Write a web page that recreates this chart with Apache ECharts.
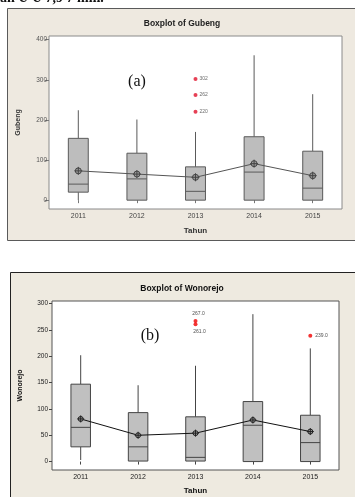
<!DOCTYPE html>
<html><head><meta charset="utf-8">
<script src="https://cdn.jsdelivr.net/npm/echarts@6/dist/echarts.min.js"></script>
<style>html,body{margin:0;padding:0;background:#fff}#c{width:355px;height:497px}</style>
</head><body><div id="c"></div>
<script>
// ---- data ----
const years = ['2011','2012','2013','2014','2015'];
// Gubeng: [lowWhisker, Q1, median, Q3, highWhisker]
const gubengBox = [
  [0, 20, 40, 154, 224],
  [0, 0, 53, 117, 201],
  [0, 0, 22, 83, 170],
  [0, 0, 70, 158, 361],
  [0, 0, 30, 122, 264]
];
const gubengMean = [73, 65, 57, 91, 61];
const gubengOutliers = [[2, 302], [2, 262], [2, 220]];
const gubengTicks = [0, 100, 200, 300, 400];
// Wonorejo
const wonorejoBox = [
  [3, 28, 65, 147, 202],
  [1, 1, 28, 93, 145],
  [0, 1, 8, 85, 182],
  [0, 0, 69, 114, 280],
  [0, 0, 36, 88, 215]
];
const wonorejoMean = [81, 50, 54, 79, 57];
const wonorejoOutliers = [[2, 267], [2, 261], [4, 239]];
const wonorejoTicks = [0, 50, 100, 150, 200, 250, 300];

const FONT = 'Liberation Sans';

function boxRenderer(stroke, fill, frac) {
  return function (params, api) {
    const x = api.value(0);
    const v = [1,2,3,4,5].map(i => api.coord([x, api.value(i)]));
    const cx = v[0][0];
    const bw = api.size([1, 0])[0] * frac;
    const st = {stroke: stroke, lineWidth: 1, fill: null};
    const ch = [];
    if (v[4][1] < v[3][1]) ch.push({type:'line', shape:{x1:cx,y1:v[4][1],x2:cx,y2:v[3][1]}, style:st});
    if (v[0][1] > v[1][1]) ch.push({type:'line', shape:{x1:cx,y1:v[1][1],x2:cx,y2:v[0][1]}, style:st});
    ch.push({type:'rect', shape:{x:cx-bw/2, y:v[3][1], width:bw, height:v[1][1]-v[3][1]}, style:{fill:fill, stroke:stroke, lineWidth:1}});
    ch.push({type:'line', shape:{x1:cx-bw/2,y1:v[2][1],x2:cx+bw/2,y2:v[2][1]}, style:st});
    return {type:'group', children:ch};
  };
}
function meanRenderer(stroke, r) {
  return function (params, api) {
    const p = api.coord([api.value(0), api.value(1)]);
    const st = {stroke: stroke, lineWidth: 1};
    return {type:'group', children:[
      {type:'circle', shape:{cx:p[0], cy:p[1], r:r}, style:{fill:'#9a9a9a', stroke:stroke, lineWidth:1}},
      {type:'line', shape:{x1:p[0]-r-1,y1:p[1],x2:p[0]+r+1,y2:p[1]}, style:st},
      {type:'line', shape:{x1:p[0],y1:p[1]-r-1,x2:p[0],y2:p[1]+r+1}, style:st}
    ]};
  };
}

const boxData = arr => arr.map((d, i) => [i].concat(d));
const meanData = arr => arr.map((d, i) => [i, d]);

const chart = echarts.init(document.getElementById('c'), null, {renderer:'canvas'});
chart.setOption({
  animation: false,
  backgroundColor: '#fff',
  graphic: [
    {type:'rect', z:-10, shape:{x:7.5, y:8.5, width:360, height:232}, style:{fill:'#EEE9E0', stroke:'#5a5a5a', lineWidth:1}},
    {type:'rect', z:-10, shape:{x:10.5, y:272.5, width:360, height:240}, style:{fill:'#EEEAE0', stroke:'#222', lineWidth:1}},
    {type:'text', left:0, top:-9, style:{text:'an U U 7,9 7 mm.', font:'bold 14px "Liberation Serif"', fill:'#111'}},
    {type:'text', x:182, y:24, style:{text:'Boxplot of Gubeng', font:'bold 8.5px "'+FONT+'"', fill:'#222', align:'center', verticalAlign:'middle'}},
    {type:'text', x:182, y:289, style:{text:'Boxplot of Wonorejo', font:'bold 8.5px "'+FONT+'"', fill:'#111', align:'center', verticalAlign:'middle'}},
    {type:'text', x:137, y:82, z:10, style:{text:'(a)', font:'16px "Liberation Serif"', fill:'#111', align:'center', verticalAlign:'middle'}},
    {type:'text', x:150, y:336, z:10, style:{text:'(b)', font:'16px "Liberation Serif"', fill:'#111', align:'center', verticalAlign:'middle'}}
  ],
  grid: [
    {left:49, top:36, right:13, bottom:288, show:true, backgroundColor:'#fff', borderColor:'#8a8a8a', borderWidth:1},
    {left:52, top:301, right:16, bottom:27, show:true, backgroundColor:'#fff', borderColor:'#555', borderWidth:1}
  ],
  xAxis: [
    {gridIndex:0, type:'category', data:years, boundaryGap:true,
     axisLine:{show:false}, axisTick:{show:true, alignWithLabel:true, length:3, lineStyle:{color:'#777'}},
     axisLabel:{fontFamily:FONT, fontSize:7, color:'#444', margin:4},
     name:'Tahun', nameLocation:'middle', nameGap:18,
     nameTextStyle:{fontFamily:FONT, fontSize:8, fontWeight:'bold', color:'#333'}},
    {gridIndex:1, type:'category', data:years, boundaryGap:true,
     axisLine:{show:false}, axisTick:{show:true, alignWithLabel:true, length:3, lineStyle:{color:'#444'}},
     axisLabel:{fontFamily:FONT, fontSize:7, color:'#222', margin:4},
     name:'Tahun', nameLocation:'middle', nameGap:17,
     nameTextStyle:{fontFamily:FONT, fontSize:8, fontWeight:'bold', color:'#111'}}
  ],
  yAxis: [
    {gridIndex:0, type:'value', min:-22, max:409, splitLine:{show:false},
     axisLine:{show:false}, axisTick:{show:true, length:4, customValues:gubengTicks, lineStyle:{color:'#777'}},
     axisLabel:{customValues:gubengTicks, fontFamily:FONT, fontSize:6.5, color:'#555', margin:2},
     name:'Gubeng', nameLocation:'middle', nameGap:27, nameRotate:90,
     nameTextStyle:{fontFamily:FONT, fontSize:7, fontWeight:'bold', color:'#333'}},
    {gridIndex:1, type:'value', min:-16, max:305, splitLine:{show:false},
     axisLine:{show:false}, axisTick:{show:true, length:3, customValues:wonorejoTicks, lineStyle:{color:'#444'}},
     axisLabel:{customValues:wonorejoTicks, fontFamily:FONT, fontSize:6.5, color:'#222', margin:4},
     name:'Wonorejo', nameLocation:'middle', nameGap:28, nameRotate:90,
     nameTextStyle:{fontFamily:FONT, fontSize:7, fontWeight:'bold', color:'#111'}}
  ],
  series: [
    {type:'custom', xAxisIndex:0, yAxisIndex:0, data:boxData(gubengBox), renderItem:boxRenderer('#5a5a5a', '#BDBDBD', 0.34), z:2},
    {type:'line', xAxisIndex:0, yAxisIndex:0, data:meanData(gubengMean), symbol:'none', lineStyle:{color:'#555', width:1}, z:3},
    {type:'custom', xAxisIndex:0, yAxisIndex:0, data:meanData(gubengMean), renderItem:meanRenderer('#444', 3), z:4},
    {type:'scatter', xAxisIndex:0, yAxisIndex:0, data:gubengOutliers, symbol:'circle', symbolSize:4,
     itemStyle:{color:'#E0102A'}, z:5,
     label:{show:true, position:'right', distance:2, formatter:p => String(p.value[1]), fontFamily:FONT, fontSize:5, color:'#444'}},
    {type:'custom', xAxisIndex:1, yAxisIndex:1, data:boxData(wonorejoBox), renderItem:boxRenderer('#444', '#C0C0C0', 0.34), z:2},
    {type:'line', xAxisIndex:1, yAxisIndex:1, data:meanData(wonorejoMean), symbol:'none', lineStyle:{color:'#111', width:1}, z:3},
    {type:'custom', xAxisIndex:1, yAxisIndex:1, data:meanData(wonorejoMean), renderItem:meanRenderer('#222', 2.5), z:4},
    {type:'scatter', xAxisIndex:1, yAxisIndex:1, symbol:'circle', symbolSize:4, itemStyle:{color:'#F00000'}, z:5,
     data:[
       {value:wonorejoOutliers[0], label:{position:'top', distance:3, offset:[3,0]}},
       {value:wonorejoOutliers[1], label:{position:'bottom', distance:3, offset:[4,0]}},
       {value:wonorejoOutliers[2], label:{position:'right', distance:3}}
     ],
     label:{show:true, formatter:p => p.value[1].toFixed(1), fontFamily:FONT, fontSize:5, color:'#222'}}
  ]
});
</script></body></html>
